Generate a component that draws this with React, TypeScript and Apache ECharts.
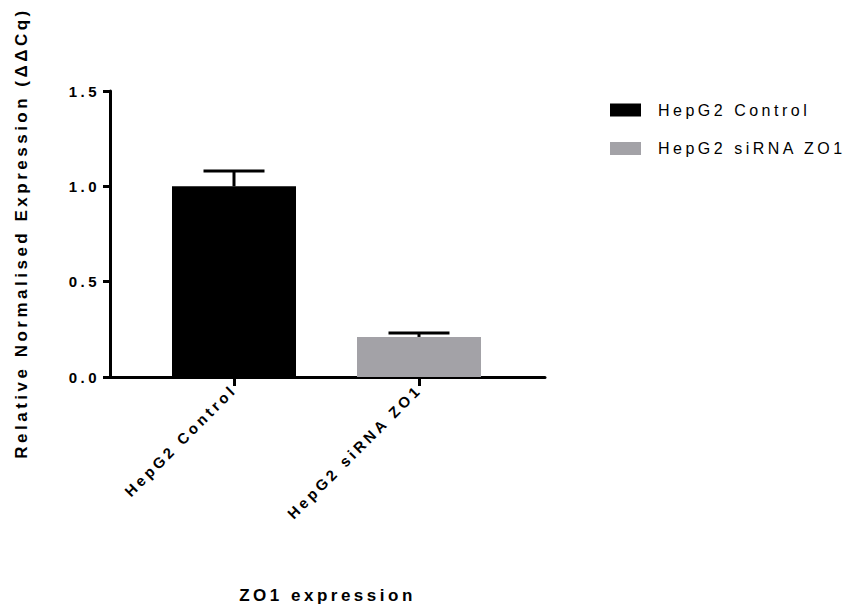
import React, { useEffect, useRef } from "react";
import * as echarts from "echarts";

const categories = ["HepG2 Control", "HepG2 siRNA ZO1"];
const values = [1.0, 0.21];
const errors = [0.08, 0.021];
const colors = ["#000000", "#a3a2a7"];
const yTicks = [0, 0.5, 1.0, 1.5];

const FONT = "Arial, 'Liberation Sans', sans-serif";

export default function App() {
  const ref = useRef<HTMLDivElement>(null);
  useEffect(() => {
    if (!ref.current) return;
    const chart = echarts.init(ref.current, null, { renderer: "svg" });
    const errData = categories.map((_, i) => [i, values[i], values[i] + errors[i]]);
    const option: any = {
      animation: false,
      backgroundColor: "#ffffff",
      textStyle: { fontFamily: FONT, color: "#000" },
      grid: { left: 110, right: 305, top: 91, bottom: 231, containLabel: false },
      legend: {
        orient: "vertical",
        left: 605,
        top: 97,
        itemWidth: 31,
        itemHeight: 13,
        itemGap: 22.5,
        icon: "rect",
        textStyle: { fontSize: 16, color: "#000", fontFamily: FONT, padding: [0, 0, 0, 12] },
        data: categories,
      },
      xAxis: {
        type: "value",
        min: -124 / 185,
        max: 1 + 126 / 185,
        name: "ZO1 expression",
        nameLocation: "middle",
        nameGap: 210,
        nameTextStyle: { fontSize: 17, fontWeight: "bold", color: "#000", fontFamily: FONT },
        splitLine: { show: false },
        axisLine: { show: true, onZero: false, lineStyle: { color: "#000", width: 3 } },
        axisTick: { show: true, customValues: [0, 1], length: 9, lineStyle: { color: "#000", width: 3 } },
        axisLabel: {
          customValues: [0, 1],
          rotate: 45,
          margin: 10,
          fontSize: 15,
          fontWeight: "bold",
          color: "#000",
          fontFamily: FONT,
          formatter: (v: number) => categories[Math.round(v)] ?? "",
        },
      },
      yAxis: {
        type: "value",
        min: 0,
        max: 1.5,
        interval: 0.5,
        splitLine: { show: false },
        axisLine: { show: true, onZero: false, lineStyle: { color: "#000", width: 3 } },
        axisTick: { show: true, length: 7, lineStyle: { color: "#000", width: 3 } },
        axisLabel: {
          margin: 10,
          fontSize: 15,
          fontWeight: "bold",
          color: "#000",
          fontFamily: FONT,
          formatter: (v: number) => (yTicks.includes(v) ? v.toFixed(1) : ""),
        },
      },
      graphic: [
        {
          type: "text",
          x: 21,
          y: 233,
          rotation: Math.PI / 2,
          style: {
            text: "Relative Normalised Expression (ΔΔCq)",
            font: `bold 17px ${FONT}`,
            fill: "#000",
            textAlign: "center",
            textVerticalAlign: "middle",
          },
        },
      ],
      series: [
        ...categories.map((name, i) => ({
          name,
          type: "bar",
          barWidth: 124,
          barGap: "-100%",
          itemStyle: { color: colors[i] },
          data: [[i, values[i]]],
        })),
        {
          type: "custom",
          name: "error",
          z: 5,
          data: errData,
          renderItem: (params: any, api: any) => {
            const x = api.value(0);
            const base = api.coord([x, api.value(1)]);
            const top = api.coord([x, api.value(2)]);
            const half = 30.5;
            return {
              type: "group",
              children: [
                {
                  type: "line",
                  shape: { x1: base[0], y1: base[1], x2: top[0], y2: top[1] },
                  style: { stroke: "#000", lineWidth: 3 },
                },
                {
                  type: "line",
                  shape: { x1: top[0] - half, y1: top[1], x2: top[0] + half, y2: top[1] },
                  style: { stroke: "#000", lineWidth: 3 },
                },
              ],
            };
          },
        },
      ],
    };
    chart.setOption(option);
    return () => chart.dispose();
  }, []);
  return (
    <>
      <style>{`.chart-host text { letter-spacing: 3.5px; }`}</style>
      <div
        ref={ref}
        className="chart-host"
        style={{ position: "fixed", left: 0, top: 0, width: 850, height: 608 }}
      />
    </>
  );
}
